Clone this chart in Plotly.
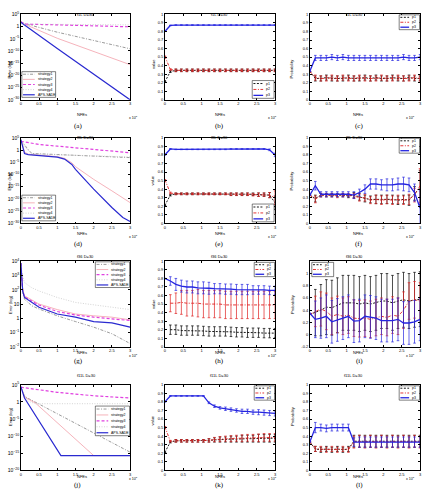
import plotly.graph_objects as go

W, H = 427, 497
COLS = [(20, 130), (165, 276), (311, 422)]
ROWS = [(11.5, 98), (136.5, 223), (261.5, 348), (386.5, 473)]

# ---------------- data ----------------
titles = ["f1L D=30", "f8L D=30", "f36 D=30", "f11L D=30"]
panel_labels = ["(a)", "(b)", "(c)", "(d)", "(e)", "(f)", "(g)", "(h)", "(i)", "(j)", "(k)", "(l)"]
strategy_names = ["strategy1", "strategy2", "strategy3", "strategy4", "APS-SADE"]
p_names = ["p1", "p2", "p3"]
x_ticks = [0, 0.5, 1, 1.5, 2, 2.5, 3]
x_tick_text = ["0", "0.5", "1", "1.5", "2", "2.5", "3"]

# error curves (NFEs in units of 1e5)
a_x = [0, 0.1, 1, 2, 3]
a_s1 = [1e2, 1.6e1, 5e-3, 2e-6, 8e-10]
a_s2 = [1e2, 1e1, 1.6e-5, 6e-11, 2.5e-16]
a_s3 = [1e2, 1e1, 5e0, 2e0, 8e-1]
a_s4 = [1e2, 1e1, 8e0, 6e0, 5e0]
a_aps = [6e1, 4e0, 1e-9, 3e-20, 1e-30]

d_x_aps = [0, 0.05, 0.1, 0.2, 0.5, 1.0, 1.2, 1.4, 1.5, 2.0, 2.5, 2.8, 3.0]
d_aps = [2e4, 8e0, 4e-2, 1.3e-2, 6e-3, 1.3e-3, 2e-4, 1.3e-6, 1.3e-8, 1e-16, 3e-24, 2.5e-28, 6e-30]
d_x_s2 = [0, 0.05, 0.1, 0.2, 0.5, 1.0, 1.2, 1.4, 1.5, 2.0, 2.5, 3.0]
d_s2 = [2e4, 3e1, 1.6e-1, 2e-2, 1e-2, 2e-3, 4e-4, 6e-6, 1.6e-7, 1e-12, 2e-17, 3e-22]
d_x_s3 = [0, 0.5, 1, 2, 3]
d_s3 = [4e3, 2e2, 4e1, 1.8e0, 8e-2]
d_x_s1 = [0, 0.1, 0.2, 0.3, 1, 2, 3]
d_s1 = [1e4, 1e2, 1.8e0, 4e-2, 1.6e-2, 3e-3, 8e-4]
d_x_s4 = [0, 0.1, 0.3, 1, 2, 3]
d_s4 = [1e4, 3e1, 2.5e-2, 1e-2, 4e-3, 1.6e-3]

g_x = [0, 0.05, 0.1, 0.3, 0.5, 1, 1.5, 2, 2.5, 3]
g_s1 = [7.6e3, 6.5e1, 2.2e1, 7.6e0, 4.5e0, 1.5e0, 5.9e-1, 2.4e-1, 8.3e-2, 1.7e-2]
g_s2 = [7.6e3, 1.1e2, 3.8e1, 2e1, 1e1, 4.1e0, 2e0, 1.5e0, 1.2e0, 7.8e-1]
g_s3 = [7.6e3, 8.3e1, 3.2e1, 1.7e1, 8.5e0, 3e0, 1.7e0, 1.2e0, 9e-1, 7e-1]
g_s4 = [7.6e3, 9e2, 3.2e2, 1.4e2, 8.3e1, 2.9e1, 1.3e1, 8.5e0, 5.9e0, 4.1e0]
g_aps = [7.6e3, 8.3e1, 2.9e1, 1.3e1, 5.9e0, 2e0, 1.2e0, 5.9e-1, 4.8e-1, 2.4e-1]

j_x_aps = [0, 0.1, 1.1, 3]
j_aps = [3e4, 1.4e1, 2e-16, 2e-16]
j_x_s2 = [0, 0.1, 0.4, 2.0, 3]
j_s2 = [3e4, 2.5e1, 5e-1, 2e-16, 2e-16]
j_x_s1 = [0, 0.1, 3]
j_s1 = [2e4, 4e1, 2e-15]
j_x_s3 = [0, 1, 2, 3]
j_s3 = [2e4, 6.3e2, 6.3e1, 1.4e1]
j_x_s4 = [0, 0.2, 0.4, 3]
j_s4 = [2e4, 1.6e0, 3e-1, 3e-1]

# value / probability curves
xp = [0, 0.15, 0.3, 0.45, 0.6, 0.75, 0.9, 1.05, 1.2, 1.35, 1.5, 1.65, 1.8, 1.95, 2.1, 2.25, 2.4, 2.55, 2.7, 2.85, 3.0]

b_p1 = [0.21, 0.33, 0.345, 0.345, 0.345, 0.345, 0.345, 0.345, 0.345, 0.345, 0.345, 0.345, 0.345, 0.345, 0.345, 0.345, 0.345, 0.345, 0.345, 0.345, 0.345]
b_p2 = [0.51, 0.355, 0.345, 0.345, 0.345, 0.345, 0.345, 0.345, 0.345, 0.345, 0.345, 0.345, 0.345, 0.345, 0.345, 0.345, 0.345, 0.345, 0.345, 0.345, 0.345]
b_p3 = [0.80, 0.87, 0.875, 0.875, 0.875, 0.875, 0.875, 0.875, 0.875, 0.875, 0.875, 0.875, 0.875, 0.875, 0.875, 0.875, 0.875, 0.875, 0.875, 0.875, 0.875]
b_e1 = [0, 0.01, 0.015, 0.015, 0.015, 0.015, 0.015, 0.015, 0.015, 0.015, 0.015, 0.015, 0.015, 0.015, 0.015, 0.015, 0.015, 0.015, 0.015, 0.015, 0.015]
b_e2 = b_e1
b_e3 = [0, 0.003, 0.003, 0.003, 0.003, 0.003, 0.003, 0.003, 0.003, 0.003, 0.003, 0.003, 0.003, 0.003, 0.003, 0.003, 0.003, 0.003, 0.003, 0.003, 0.003]

c_p1 = [0.333, 0.25, 0.25, 0.26, 0.25, 0.25, 0.25, 0.26, 0.25, 0.25, 0.26, 0.25, 0.26, 0.25, 0.25, 0.26, 0.25, 0.25, 0.26, 0.25, 0.25]
c_p2 = [0.333, 0.26, 0.25, 0.25, 0.26, 0.25, 0.26, 0.25, 0.25, 0.26, 0.25, 0.25, 0.25, 0.26, 0.25, 0.25, 0.26, 0.25, 0.25, 0.26, 0.25]
c_p3 = [0.333, 0.49, 0.49, 0.49, 0.50, 0.49, 0.50, 0.49, 0.49, 0.49, 0.49, 0.49, 0.49, 0.49, 0.49, 0.49, 0.49, 0.50, 0.49, 0.49, 0.50]
c_e1 = [0, 0.03, 0.03, 0.03, 0.03, 0.03, 0.03, 0.03, 0.03, 0.03, 0.03, 0.03, 0.03, 0.03, 0.03, 0.03, 0.03, 0.03, 0.03, 0.03, 0.03]
c_e2 = c_e1
c_e3 = c_e1

e_p1 = [0.21, 0.33, 0.345, 0.345, 0.345, 0.345, 0.345, 0.345, 0.345, 0.345, 0.345, 0.345, 0.34, 0.34, 0.34, 0.34, 0.34, 0.335, 0.335, 0.33, 0.24]
e_p2 = [0.51, 0.355, 0.345, 0.345, 0.345, 0.345, 0.345, 0.345, 0.345, 0.345, 0.345, 0.345, 0.34, 0.34, 0.34, 0.34, 0.335, 0.335, 0.335, 0.33, 0.30]
e_p3 = [0.80, 0.87, 0.865, 0.865, 0.865, 0.865, 0.865, 0.865, 0.865, 0.865, 0.865, 0.865, 0.87, 0.87, 0.87, 0.87, 0.87, 0.87, 0.87, 0.86, 0.80]
e_e1 = [0, 0.01, 0.01, 0.01, 0.01, 0.01, 0.01, 0.01, 0.01, 0.01, 0.01, 0.01, 0.015, 0.015, 0.015, 0.015, 0.015, 0.02, 0.02, 0.03, 0.08]
e_e2 = e_e1
e_e3 = [0, 0.003, 0.003, 0.003, 0.003, 0.003, 0.003, 0.003, 0.003, 0.003, 0.003, 0.003, 0.003, 0.003, 0.003, 0.003, 0.003, 0.003, 0.003, 0.01, 0.02]

f_p1 = [0.33, 0.29, 0.33, 0.33, 0.33, 0.33, 0.33, 0.32, 0.33, 0.31, 0.29, 0.28, 0.28, 0.28, 0.28, 0.28, 0.27, 0.28, 0.27, 0.35, 0.42]
f_p2 = [0.33, 0.28, 0.33, 0.33, 0.33, 0.32, 0.33, 0.33, 0.32, 0.30, 0.30, 0.27, 0.28, 0.27, 0.28, 0.27, 0.28, 0.27, 0.28, 0.33, 0.44]
f_p3 = [0.33, 0.44, 0.34, 0.34, 0.34, 0.34, 0.34, 0.34, 0.33, 0.36, 0.40, 0.46, 0.46, 0.45, 0.45, 0.45, 0.46, 0.46, 0.45, 0.36, 0.18]
f_e1 = [0, 0.04, 0.02, 0.02, 0.02, 0.02, 0.02, 0.02, 0.03, 0.04, 0.04, 0.04, 0.05, 0.05, 0.05, 0.05, 0.05, 0.05, 0.06, 0.08, 0.2]
f_e2 = f_e1
f_e3 = [0, 0.05, 0.03, 0.03, 0.03, 0.03, 0.03, 0.03, 0.04, 0.04, 0.05, 0.06, 0.06, 0.06, 0.07, 0.07, 0.07, 0.08, 0.08, 0.1, 0.2]

h_p1 = [None, 0.20, 0.20, 0.19, 0.19, 0.19, 0.19, 0.185, 0.18, 0.18, 0.18, 0.18, 0.175, 0.17, 0.17, 0.165, 0.165, 0.165, 0.16, 0.16, 0.16]
h_p2 = [None, 0.51, 0.51, 0.52, 0.51, 0.51, 0.51, 0.50, 0.50, 0.50, 0.50, 0.49, 0.49, 0.49, 0.49, 0.49, 0.49, 0.49, 0.49, 0.49, 0.49]
h_p3 = [0.80, 0.77, 0.73, 0.71, 0.70, 0.70, 0.69, 0.69, 0.685, 0.68, 0.68, 0.675, 0.675, 0.67, 0.67, 0.67, 0.665, 0.665, 0.665, 0.66, 0.66]
h_e1 = [0, 0.055, 0.055, 0.055, 0.055, 0.055, 0.055, 0.055, 0.055, 0.055, 0.055, 0.055, 0.055, 0.055, 0.055, 0.055, 0.055, 0.055, 0.055, 0.055, 0.055]
h_e2 = [0, 0.10, 0.12, 0.14, 0.15, 0.15, 0.16, 0.16, 0.16, 0.16, 0.16, 0.16, 0.16, 0.16, 0.16, 0.16, 0.16, 0.16, 0.16, 0.16, 0.16]
h_e3 = [0, 0.05, 0.07, 0.07, 0.07, 0.07, 0.07, 0.07, 0.07, 0.06, 0.06, 0.06, 0.06, 0.06, 0.06, 0.06, 0.05, 0.05, 0.05, 0.05, 0.05]

i_p1 = [0.33, 0.36, 0.40, 0.45, 0.44, 0.48, 0.52, 0.52, 0.52, 0.50, 0.52, 0.50, 0.52, 0.55, 0.55, 0.52, 0.55, 0.57, 0.55, 0.57, 0.58]
i_p2 = [0.33, 0.38, 0.42, 0.38, 0.30, 0.33, 0.30, 0.32, 0.27, 0.26, 0.27, 0.25, 0.28, 0.30, 0.28, 0.32, 0.30, 0.40, 0.55, 0.57, 0.55]
i_p3 = [0.35, 0.25, 0.27, 0.30, 0.21, 0.24, 0.27, 0.30, 0.22, 0.23, 0.30, 0.29, 0.27, 0.23, 0.23, 0.23, 0.25, 0.19, 0.19, 0.21, 0.25]
i_e1 = [0, 0.38, 0.42, 0.45, 0.45, 0.45, 0.45, 0.45, 0.45, 0.45, 0.45, 0.45, 0.45, 0.45, 0.45, 0.45, 0.45, 0.45, 0.45, 0.45, 0.45]
i_e2 = [0, 0.25, 0.28, 0.30, 0.30, 0.30, 0.30, 0.30, 0.30, 0.30, 0.30, 0.30, 0.30, 0.30, 0.30, 0.30, 0.30, 0.30, 0.30, 0.30, 0.30]
i_e3 = [0, 0.30, 0.33, 0.35, 0.35, 0.35, 0.35, 0.35, 0.35, 0.35, 0.35, 0.35, 0.35, 0.35, 0.35, 0.35, 0.35, 0.35, 0.35, 0.35, 0.35]

k_p1 = [0.21, 0.33, 0.345, 0.345, 0.345, 0.345, 0.345, 0.345, 0.35, 0.355, 0.36, 0.36, 0.365, 0.365, 0.37, 0.37, 0.37, 0.375, 0.375, 0.375, 0.375]
k_p2 = [0.51, 0.34, 0.345, 0.345, 0.345, 0.345, 0.345, 0.345, 0.35, 0.36, 0.365, 0.37, 0.37, 0.375, 0.375, 0.38, 0.38, 0.38, 0.385, 0.385, 0.385]
k_p3 = [0.80, 0.87, 0.87, 0.87, 0.87, 0.87, 0.87, 0.87, 0.79, 0.75, 0.73, 0.72, 0.71, 0.70, 0.69, 0.69, 0.68, 0.68, 0.675, 0.67, 0.665]
k_e1 = [0, 0.01, 0.015, 0.015, 0.015, 0.015, 0.015, 0.015, 0.02, 0.025, 0.03, 0.03, 0.035, 0.035, 0.04, 0.04, 0.04, 0.045, 0.045, 0.045, 0.045]
k_e2 = k_e1
k_e3 = [0, 0.003, 0.003, 0.003, 0.003, 0.003, 0.003, 0.003, 0.01, 0.015, 0.015, 0.02, 0.02, 0.02, 0.025, 0.025, 0.025, 0.03, 0.03, 0.03, 0.03]

l_p1 = [0.33, 0.25, 0.24, 0.25, 0.24, 0.25, 0.24, 0.25, 0.34, 0.34, 0.34, 0.34, 0.34, 0.34, 0.34, 0.34, 0.34, 0.34, 0.34, 0.34, 0.34]
l_p2 = [0.33, 0.25, 0.25, 0.24, 0.25, 0.24, 0.25, 0.24, 0.33, 0.34, 0.33, 0.34, 0.33, 0.34, 0.33, 0.34, 0.33, 0.34, 0.33, 0.34, 0.33]
l_p3 = [0.33, 0.50, 0.50, 0.49, 0.50, 0.50, 0.50, 0.50, 0.33, 0.33, 0.33, 0.33, 0.33, 0.33, 0.33, 0.33, 0.33, 0.33, 0.33, 0.33, 0.33]
l_e1 = [0, 0.03, 0.03, 0.03, 0.03, 0.03, 0.03, 0.03, 0.07, 0.07, 0.07, 0.07, 0.07, 0.07, 0.07, 0.07, 0.07, 0.07, 0.07, 0.07, 0.07]
l_e2 = l_e1
l_e3 = [0, 0.06, 0.04, 0.04, 0.04, 0.04, 0.04, 0.04, 0.05, 0.06, 0.06, 0.06, 0.06, 0.06, 0.06, 0.06, 0.06, 0.06, 0.06, 0.06, 0.06]

# ---------------- styles ----------------
S_STYLE = [
    dict(color="#808080", width=0.8, dash="3px,1.5px,1px,1.5px"),
    dict(color="#f2a0aa", width=0.8, dash="solid"),
    dict(color="#e040e0", width=1.2, dash="3px,2px"),
    dict(color="#c8c8c8", width=0.8, dash="1px,1.5px"),
    dict(color="#2a2ad0", width=1.2, dash="solid"),
]
P_STYLE = [
    dict(color="#000000", width=0.9, dash="2px,1.5px"),
    dict(color="#e02020", width=0.9, dash="3px,1.5px,1px,1.5px"),
    dict(color="#2525e0", width=1.3, dash="solid"),
]

FONT = "Liberation Sans"
TICKF = 4

def px2x(x):
    return x / W

def px2y(y):
    return 1 - y / H

fig = go.Figure()
shapes = []
annotations = []
layout = {}

def axis_name(k):
    return ("" if k == 1 else str(k))

def setup_axes(k, r, c, ytype, yrange, ydtick=None, ytickvals=None):
    x0, x1 = COLS[c]
    y0, y1 = ROWS[r]
    n = axis_name(k)
    common = dict(showline=True, linecolor="black", linewidth=0.6, mirror="ticks",
                  ticks="inside", ticklen=2, tickwidth=0.5, tickcolor="black",
                  showgrid=False, zeroline=False,
                  tickfont=dict(size=TICKF, family=FONT, color="black"))
    layout["xaxis" + n] = dict(common, domain=[px2x(x0), px2x(x1)], anchor="y" + n,
                               range=[0, 3], tickvals=x_ticks, ticktext=x_tick_text)
    ya = dict(common, domain=[px2y(y1), px2y(y0)], anchor="x" + n, range=yrange)
    if ytype == "log":
        ya.update(type="log", dtick=ydtick, tick0=0, exponentformat="power", showexponent="all")
    else:
        ya.update(tickvals=ytickvals, ticktext=[("%g" % v) for v in ytickvals])
    layout["yaxis" + n] = ya
    # texts
    cx = (x0 + x1) / 2
    annotations.append(dict(text=titles[r], x=px2x(cx), y=px2y(y0 - 4.5), xref="paper", yref="paper",
                            showarrow=False, font=dict(size=4, family=FONT, color="black")))
    annotations.append(dict(text="NFEs", x=px2x(cx), y=px2y(y1 + 10.5), xref="paper", yref="paper",
                            showarrow=False, font=dict(size=4, family=FONT, color="black")))
    annotations.append(dict(text="x 10<sup>5</sup>", x=px2x(x1 - 3), y=px2y(y1 + 13), xref="paper", yref="paper",
                            showarrow=False, font=dict(size=3.6, family=FONT, color="black")))
    yt = ["Error (log)", "value", "Probability"][c]
    ytx = [4.5, 153, 297.5][c]
    annotations.append(dict(text=yt, x=px2x(ytx), y=px2y((y0 + y1) / 2), xref="paper", yref="paper",
                            textangle=-90, showarrow=False, font=dict(size=4, family=FONT, color="black")))
    annotations.append(dict(text=panel_labels[k - 1], x=px2x([72, 220, 367][c]), y=px2y(y1 + 20.5),
                            xref="paper", yref="paper", showarrow=False,
                            font=dict(size=7, family="Liberation Serif", color="black")))

def add_line(k, x, y, style):
    n = axis_name(k)
    fig.add_trace(go.Scatter(x=x, y=y, mode="lines", line=style, xaxis="x" + n, yaxis="y" + n,
                             showlegend=False, hoverinfo="skip"))

def add_err(k, x, y, e, style):
    n = axis_name(k)
    fig.add_trace(go.Scatter(x=x, y=y, mode="lines", line=style, xaxis="x" + n, yaxis="y" + n,
                             error_y=dict(type="data", array=e, visible=True, thickness=0.7, width=1.3,
                                          color=style["color"]),
                             showlegend=False, hoverinfo="skip"))

def add_legend(box, names, styles, sample_len):
    x0, y0, x1, y1 = box
    shapes.append(dict(type="rect", xref="paper", yref="paper", x0=px2x(x0), x1=px2x(x1),
                       y0=px2y(y1), y1=px2y(y0), line=dict(color="black", width=0.5), fillcolor="white",
                       layer="above"))
    nitem = len(names)
    h = (y1 - y0) / nitem
    for i, (nm, st) in enumerate(zip(names, styles)):
        yc = y0 + h * (i + 0.5)
        shapes.append(dict(type="line", xref="paper", yref="paper", x0=px2x(x0 + 1.2), x1=px2x(x0 + sample_len),
                           y0=px2y(yc), y1=px2y(yc), line=dict(color=st["color"], width=st["width"], dash=st["dash"]),
                           layer="above"))
        annotations.append(dict(text=nm, x=px2x(x0 + sample_len + 1.2), y=px2y(yc), xref="paper", yref="paper",
                                xanchor="left", yanchor="middle", showarrow=False,
                                font=dict(size=3.5, family=FONT, color="black")))

val_ticks = [0, 0.1, 0.2, 0.3, 0.4, 0.5, 0.6, 0.7, 0.8, 0.9, 1]

# ---- row 1
setup_axes(1, 0, 0, "log", [-30, 5], 5)
for xs, ys, st in [(a_x, a_s1, S_STYLE[0]), (a_x, a_s2, S_STYLE[1]), (a_x, a_s3, S_STYLE[2]),
                   (a_x, a_s4, S_STYLE[3]), (a_x, a_aps, S_STYLE[4])]:
    add_line(1, xs, ys, st)
add_legend((21, 69.5, 55, 95.5), strategy_names, S_STYLE, 13)

setup_axes(2, 0, 1, "lin", [0, 1], ytickvals=val_ticks)
for ys, es, st in [(b_p1, b_e1, P_STYLE[0]), (b_p2, b_e2, P_STYLE[1]), (b_p3, b_e3, P_STYLE[2])]:
    add_err(2, xp, ys, es, st)
add_legend((253, 78.5, 275, 96.5), p_names, P_STYLE, 11)

setup_axes(3, 0, 2, "lin", [0, 1], ytickvals=val_ticks)
for ys, es, st in [(c_p1, c_e1, P_STYLE[0]), (c_p2, c_e2, P_STYLE[1]), (c_p3, c_e3, P_STYLE[2])]:
    add_err(3, xp, ys, es, st)
add_legend((401, 12, 421.5, 27), p_names, P_STYLE, 10)

# ---- row 2
setup_axes(4, 1, 0, "log", [-30, 5], 5)
for xs, ys, st in [(d_x_s1, d_s1, S_STYLE[0]), (d_x_s2, d_s2, S_STYLE[1]), (d_x_s3, d_s3, S_STYLE[2]),
                   (d_x_s4, d_s4, S_STYLE[3]), (d_x_aps, d_aps, S_STYLE[4])]:
    add_line(4, xs, ys, st)
add_legend((21, 194.5, 55, 220.5), strategy_names, S_STYLE, 13)

setup_axes(5, 1, 1, "lin", [0, 1], ytickvals=val_ticks)
for ys, es, st in [(e_p1, e_e1, P_STYLE[0]), (e_p2, e_e2, P_STYLE[1]), (e_p3, e_e3, P_STYLE[2])]:
    add_err(5, xp, ys, es, st)
add_legend((253, 203.5, 275, 221.5), p_names, P_STYLE, 11)

setup_axes(6, 1, 2, "lin", [0, 1], ytickvals=val_ticks)
for ys, es, st in [(f_p1, f_e1, P_STYLE[0]), (f_p2, f_e2, P_STYLE[1]), (f_p3, f_e3, P_STYLE[2])]:
    add_err(6, xp, ys, es, st)
add_legend((401, 137, 421.5, 152), p_names, P_STYLE, 10)

# ---- row 3
setup_axes(7, 2, 0, "log", [-2, 4], 1)
for xs, ys, st in [(g_x, g_s1, S_STYLE[0]), (g_x, g_s2, S_STYLE[1]), (g_x, g_s3, S_STYLE[2]),
                   (g_x, g_s4, S_STYLE[3]), (g_x, g_aps, S_STYLE[4])]:
    add_line(7, xs, ys, st)
add_legend((95, 262, 129.5, 288), strategy_names, S_STYLE, 13)

setup_axes(8, 2, 1, "lin", [0, 1], ytickvals=val_ticks)
for ys, es, st in [(h_p1, h_e1, P_STYLE[0]), (h_p2, h_e2, P_STYLE[1]), (h_p3, h_e3, P_STYLE[2])]:
    add_err(8, xp, ys, es, st)
add_legend((255, 262.5, 275.5, 277), p_names, P_STYLE, 10)

setup_axes(9, 2, 2, "lin", [-0.2, 1.2], ytickvals=[-0.2, 0, 0.2, 0.4, 0.6, 0.8, 1])
for ys, es, st in [(i_p1, i_e1, P_STYLE[0]), (i_p2, i_e2, P_STYLE[1]), (i_p3, i_e3, P_STYLE[2])]:
    add_err(9, xp, ys, es, st)
add_legend((313, 262.5, 335, 277), p_names, P_STYLE, 10)

# ---- row 4
setup_axes(10, 3, 0, "log", [-20, 5], 5)
for xs, ys, st in [(j_x_s1, j_s1, S_STYLE[0]), (j_x_s2, j_s2, S_STYLE[1]), (j_x_s3, j_s3, S_STYLE[2]),
                   (j_x_s4, j_s4, S_STYLE[3]), (j_x_aps, j_aps, S_STYLE[4])]:
    add_line(10, xs, ys, st)
add_legend((95, 408, 129.5, 438), strategy_names, S_STYLE, 13)

setup_axes(11, 3, 1, "lin", [0, 1], ytickvals=val_ticks)
for ys, es, st in [(k_p1, k_e1, P_STYLE[0]), (k_p2, k_e2, P_STYLE[1]), (k_p3, k_e3, P_STYLE[2])]:
    add_err(11, xp, ys, es, st)
add_legend((255, 387.5, 275.5, 402), p_names, P_STYLE, 10)

setup_axes(12, 3, 2, "lin", [0, 1], ytickvals=val_ticks)
for ys, es, st in [(l_p1, l_e1, P_STYLE[0]), (l_p2, l_e2, P_STYLE[1]), (l_p3, l_e3, P_STYLE[2])]:
    add_err(12, xp, ys, es, st)
add_legend((401, 387.5, 421.5, 402), p_names, P_STYLE, 10)

fig.update_layout(width=W, height=H, margin=dict(l=0, r=0, t=0, b=0),
                  paper_bgcolor="white", plot_bgcolor="white",
                  font=dict(family=FONT, size=TICKF, color="black"),
                  shapes=shapes, annotations=annotations, showlegend=False, **layout)
fig.write_html("out.html")
